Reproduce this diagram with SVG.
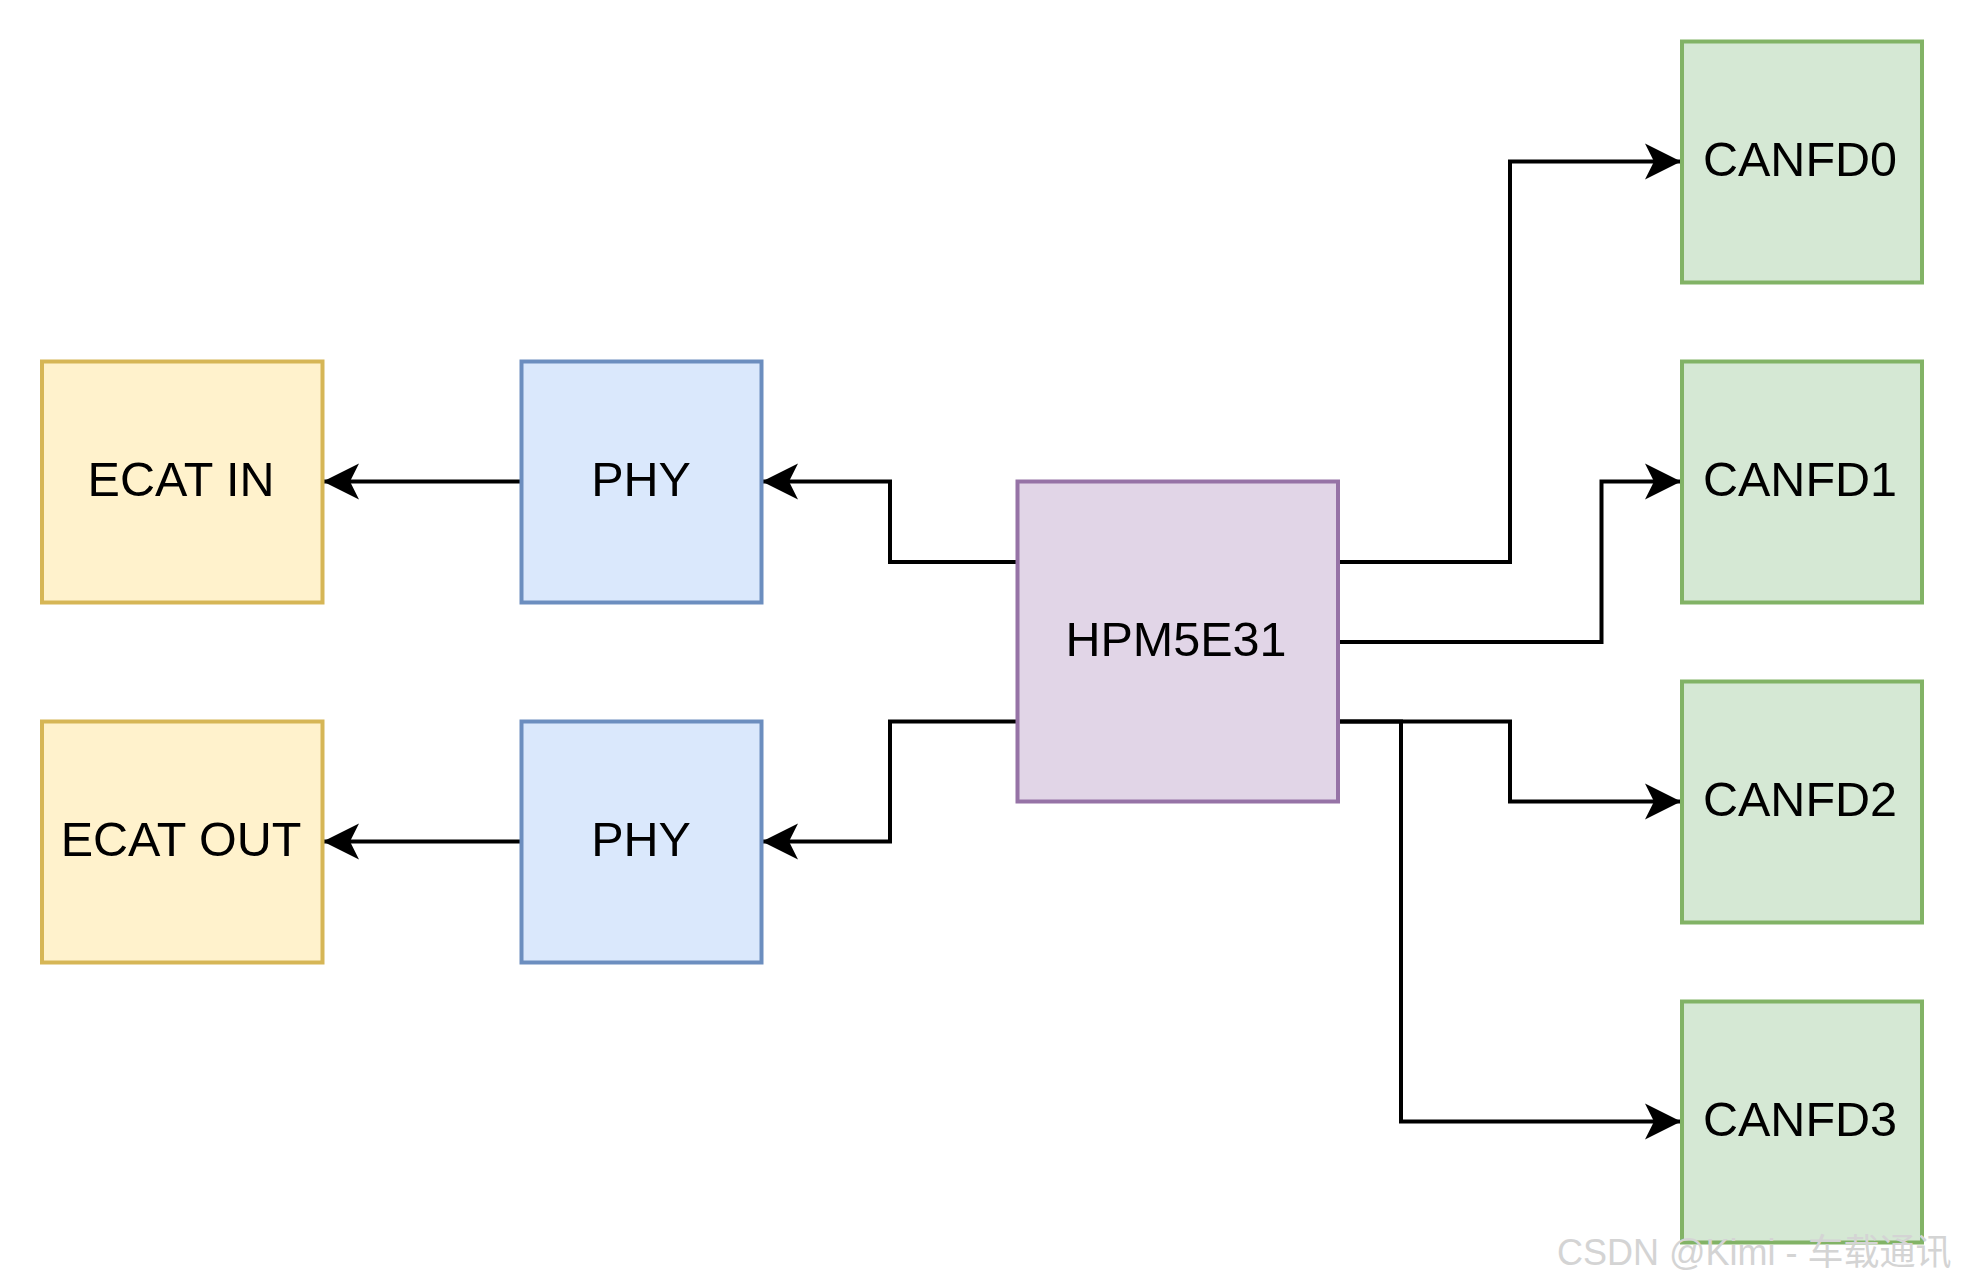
<svg xmlns="http://www.w3.org/2000/svg" width="1968" height="1288" viewBox="0 0 1968 1288">
<style>
.box{stroke-width:4}
.yel{fill:#fff2cc;stroke:#d6b656}
.blu{fill:#dae8fc;stroke:#6c8ebf}
.pur{fill:#e1d5e7;stroke:#9673a6}
.grn{fill:#d5e8d4;stroke:#82b366}
.lbl{font-family:"Liberation Sans",Arial,sans-serif;font-size:48.5px;fill:#000;text-anchor:middle}
.edge{fill:none;stroke:#000;stroke-width:4;marker-end:url(#arr)}
.wm{font-family:"Liberation Sans","Noto Sans CJK SC",sans-serif;font-size:36px;fill:#d4d4d4}
</style>
<defs>
<marker id="arr" markerUnits="userSpaceOnUse" viewBox="-37 -19 38 38" refX="0" refY="0" markerWidth="38" markerHeight="38" orient="auto">
<path d="M0,0 L-36,-18 L-27,0 L-36,18 Z" fill="#000"/>
</marker>
</defs>
<rect width="1968" height="1288" fill="#fff"/>
<g id="connectors">
<path class="edge" d="M521,481.5 H323"/>
<path class="edge" d="M521,841.5 H323"/>
<path class="edge" d="M1017,562 H890 V481.5 H762"/>
<path class="edge" d="M1017,721.5 H890 V841.5 H762"/>
<path class="edge" d="M1338,562 H1510 V161.5 H1681"/>
<path class="edge" d="M1338,642 H1601.5 V481.5 H1681"/>
<path class="edge" d="M1338,721.5 H1510 V801.5 H1681"/>
<path class="edge" d="M1338,721.5 H1401 V1121.5 H1681"/>
</g>
<g id="ecat_in"><rect class="box yel" x="42" y="361.5" width="280.5" height="241"/><text class="lbl" x="181" y="496">ECAT IN</text></g>
<g id="ecat_out"><rect class="box yel" x="42" y="721.5" width="280.5" height="241"/><text class="lbl" x="181" y="856">ECAT OUT</text></g>
<g id="phy1"><rect class="box blu" x="521.5" y="361.5" width="240" height="241"/><text class="lbl" x="641" y="496">PHY</text></g>
<g id="phy2"><rect class="box blu" x="521.5" y="721.5" width="240" height="241"/><text class="lbl" x="641" y="856">PHY</text></g>
<g id="hpm"><rect class="box pur" x="1017.5" y="481.5" width="320.5" height="320"/><text class="lbl" x="1176" y="656">HPM5E31</text></g>
<g id="canfd0"><rect class="box grn" x="1682" y="41.5" width="240" height="241"/><text class="lbl" x="1800" y="176">CANFD0</text></g>
<g id="canfd1"><rect class="box grn" x="1682" y="361.5" width="240" height="241"/><text class="lbl" x="1800" y="496">CANFD1</text></g>
<g id="canfd2"><rect class="box grn" x="1682" y="681.5" width="240" height="241"/><text class="lbl" x="1800" y="816">CANFD2</text></g>
<g id="canfd3"><rect class="box grn" x="1682" y="1001.5" width="240" height="241"/><text class="lbl" x="1800" y="1136">CANFD3</text></g>
<text class="wm" x="1557" y="1265">CSDN @Kimi - 车载通讯</text>
</svg>
